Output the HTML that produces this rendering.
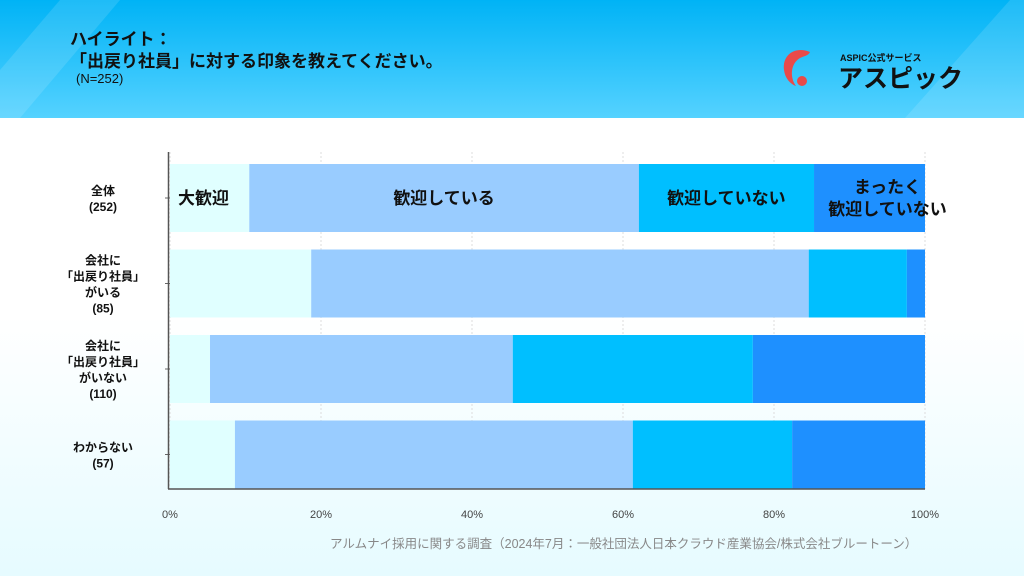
<!DOCTYPE html>
<html><head><meta charset="utf-8">
<style>
body{margin:0;width:1024px;height:576px;overflow:hidden;font-family:"Liberation Sans","Noto Sans CJK JP",sans-serif;background:linear-gradient(#ffffff 0%,#ffffff 55%,#e6fbff 100%);position:relative}
#hdr{position:absolute;left:0;top:0;width:1024px;height:118px;background:linear-gradient(180deg,#00b3f6,#55d2ff);overflow:hidden}
.t{position:absolute;color:#111;font-weight:bold}
</style></head><body>
<div id="hdr">
<svg width="1024" height="118" style="position:absolute;left:0;top:0">
<polygon points="0,118 0,70 60,0 120,0 20,118" fill="#ffffff" opacity="0.12"/>
<polygon points="1024,0 1024,118 905,118 1010,0" fill="#ffffff" opacity="0.12"/>
</svg>
<div class="t" style="left:70px;top:25px;font-size:17px">ハイライト：</div>
<div class="t" style="left:70px;top:47px;font-size:17px">「出戻り社員」に対する印象を教えてください。</div>
<div class="t" style="left:76px;top:71px;font-size:13px;font-weight:normal">(N=252)</div>
<svg width="210" height="60" style="position:absolute;left:774px;top:40px">
<path d="M36,12 C22,6 8,14 10,30 C11,38 16,44 22,46 C16,38 16,24 26,18 C30,16 34,16 36,12 Z" fill="#e84a4a"/>
<circle cx="28" cy="41" r="5" fill="#e84a4a"/>
<text x="66" y="21" font-size="9" fill="#111" font-weight="bold">ASPIC公式サービス</text>
<text x="64" y="47" font-size="25" fill="#111" font-weight="bold">アスピック</text>
</svg>
</div>
<svg id="chart" width="1024" height="576" style="position:absolute;left:0;top:0"></svg>
<div style="position:absolute;left:330px;top:533px;font-size:12.5px;color:#888">アルムナイ採用に関する調査（2024年7月：一般社団法人日本クラウド産業協会/株式会社ブルートーン）</div>
<script>
const categories=[["全体","(252)"],["会社に","「出戻り社員」","がいる","(85)"],["会社に","「出戻り社員」","がいない","(110)"],["わからない","(57)"]];
const seriesNames=["大歓迎","歓迎している","歓迎していない","まったく歓迎していない"];
const s1=[10.5,18.7,5.3,8.6];
const s2=[51.6,65.9,40.1,52.7];
const s3=[23.2,13.0,31.8,21.1];
const s4=[14.7,2.4,22.8,17.6];
const ticks=[0,20,40,60,80,100];
const colors=["#e0ffff","#99ccff","#00bfff","#1e90ff"];
const NS="http://www.w3.org/2000/svg";
const svg=document.getElementById('chart');
const x0=170,x1=925,yTop=152,yBot=489,rowH=85.5,barH=68,firstY=164;
const xs=v=>x0+(x1-x0)*v/100;
const yRow=i=>firstY+i*rowH;
function mk(tag,attrs){const e=document.createElementNS(NS,tag);for(const k in attrs)e.setAttribute(k,attrs[k]);svg.appendChild(e);return e;}
ticks.forEach(t=>{
 const g=mk('line',{x1:xs(t),x2:xs(t),y1:yTop,y2:yBot,stroke:'#ddd','stroke-dasharray':'2,2'});
 
 
 const l=mk('text',{x:xs(t),y:518,'text-anchor':'middle','font-size':11,fill:'#444'});
 l.textContent=t+'%';
 
 
});
const series=[s1,s2,s3,s4];
categories.forEach((c,i)=>{
 let acc=0;
 series.forEach((s,j)=>{
  const r=mk('rect',{x:xs(acc),y:yRow(i),width:xs(acc+s[i])-xs(acc),height:barH,fill:colors[j]});
  
  
  acc+=s[i];
 });
 const cy=yRow(i)+barH/2;
 const lh=16,start=cy-(c.length-1)*lh/2+5;
 c.forEach((ln,k)=>{
  const t=mk('text',{x:103,y:start+k*lh,'text-anchor':'middle','font-size':12,'font-weight':'bold',fill:'#111'});
  t.textContent=ln;
  
  
 });
 mk('line',{x1:165,x2:170,y1:cy,y2:cy,stroke:'#666'});
});
let acc=0;const cy0=yRow(0)+barH/2;
series.forEach((s,j)=>{
 const mid=xs(acc+s[0]/2);acc+=s[0];
 const lines=j===3?["まったく","歓迎していない"]:[seriesNames[j]];
 lines.forEach((ln,k)=>{
  const x=j===0?xs(0)+8:(j===3?xs(acc-s[0]/2)+18:mid);
  const t=mk('text',{x:x,y:cy0+6+(lines.length>1?(k-0.5)*22:0),'text-anchor':j===0?'start':'middle','font-size':17,'font-weight':'bold',fill:'#111'});
  t.textContent=ln;
  
  
 });
});
mk('line',{x1:168.5,x2:168.5,y1:yTop,y2:yBot,stroke:'#555','stroke-width':1.5});
mk('line',{x1:168,x2:x1,y1:yBot,y2:yBot,stroke:'#555','stroke-width':1.5});
</script>
</body></html>
